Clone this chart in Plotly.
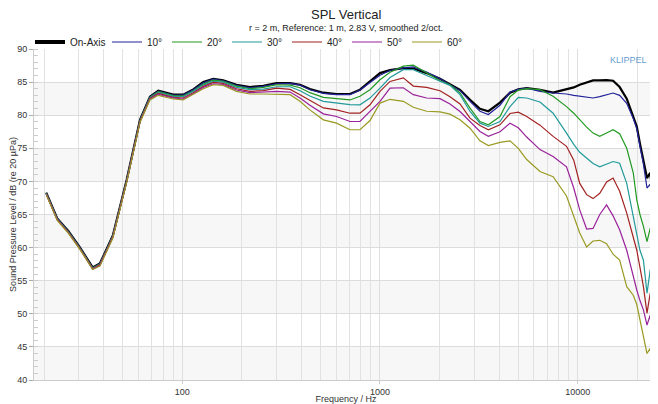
import plotly.graph_objects as go

freq_hz = [20.5, 23.3, 26.5, 30.4, 35.2, 38.3, 44.5, 52.3, 61.1, 68.6,
           75.6, 90, 101, 113.7, 127.7, 143.5, 161, 188, 220, 257,
           300, 351, 394, 442, 517, 603, 705, 792, 890, 1000,
           1124, 1312, 1474, 1722, 2012, 2260, 2539, 2853, 3204, 3532,
           4045, 4546, 5007, 5521, 6445, 7510, 8780, 9550, 10240, 11100,
           11960, 12930, 14000, 15100, 16300, 17700, 19100, 19900, 20650, 21500,
           22420, 23270, 23700]

spl_on_axis = [68.3, 64.4, 62.5, 60.0, 57.0, 57.6, 61.8, 70.2, 79.3, 82.8,
               83.7, 83.1, 83.1, 83.9, 85.0, 85.5, 85.25, 84.6, 84.25, 84.45,
               84.85, 84.85, 84.6, 83.95, 83.4, 83.2, 83.2, 83.85, 85.1, 86.36,
               86.8, 87.1, 87.05, 86.36, 85.5, 84.7, 83.84, 82.33, 80.97, 80.6,
               81.9, 83.4, 83.9, 84.1, 83.85, 83.4, 83.85, 84.2, 84.6, 84.95,
               85.25, 85.25, 85.3, 85.2, 84.25, 82.5, 79.9, 78.3, 75.7, 73.3,
               70.5, 71.3, 69.2]

spl_10 = [68.25, 64.4, 62.45, 59.95, 56.95, 57.55, 61.75, 70.15, 79.25, 82.75,
          83.65, 83.05, 83.05, 83.85, 84.9, 85.45, 85.2, 84.5, 84.15, 84.35,
          84.75, 84.8, 84.55, 83.85, 83.3, 83.1, 83.1, 83.8, 84.95, 86.05,
          86.75, 87.15, 87.3, 86.5, 85.5, 84.6, 83.7, 82.1, 80.6, 80.1,
          81.5, 83.5, 83.9, 84.1, 83.6, 83.35, 83.2, 83.0, 82.85, 82.7,
          82.6, 82.8, 83.1, 83.35, 83.0, 81.8, 79.5, 78.0, 75.3, 72.6,
          69.0, 69.6, 67.2]

spl_20 = [68.2, 64.35, 62.4, 59.9, 56.9, 57.5, 61.7, 70.1, 79.2, 82.7,
          83.55, 82.95, 82.9, 83.7, 84.7, 85.3, 85.1, 84.4, 84.0, 84.2,
          84.6, 84.55, 84.15, 83.4, 82.7, 82.45, 82.3, 82.85, 83.84, 85.36,
          86.5, 87.4, 87.55, 86.4, 85.2, 84.6, 83.35, 81.07, 79.05, 78.55,
          79.8, 82.8, 83.8, 84.0, 83.85, 82.85, 81.3, 80.3, 79.3, 78.2,
          77.3, 76.8, 77.3, 77.8, 77.2, 75.0, 71.3, 67.2, 65.0, 63.2,
          60.9, 62.9, 62.9]

spl_30 = [68.15, 64.3, 62.35, 59.85, 56.85, 57.45, 61.65, 70.05, 79.15, 82.65,
          83.4, 82.85, 82.8, 83.6, 84.55, 85.1, 85.0, 84.2, 83.85, 83.95,
          84.3, 84.3, 83.7, 82.9, 82.1, 81.8, 81.6, 81.57, 82.58, 84.1,
          85.7, 86.87, 86.87, 86.0, 85.1, 84.5, 83.1, 80.56, 78.8, 78.3,
          79.05, 81.3, 82.7, 82.6, 82.0, 80.3, 77.3, 75.6, 74.4, 73.5,
          72.7, 72.2, 72.6, 73.0, 72.75, 69.7, 64.7, 62.1, 59.6, 58.1,
          53.1, 56.6, 56.6]

spl_40 = [68.1, 64.25, 62.3, 59.8, 56.8, 57.4, 61.6, 70.0, 79.1, 82.55,
          83.3, 82.7, 82.6, 83.4, 84.35, 84.95, 84.8, 84.0, 83.6, 83.7,
          84.1, 83.9, 83.1, 82.2, 81.1, 80.8, 80.3, 80.31, 81.57, 83.6,
          85.1, 85.65, 84.4, 84.2, 83.7, 82.8, 81.7, 79.56, 78.45, 77.8,
          78.55, 80.26, 80.46, 79.8, 78.5, 76.8, 75.3, 73.2, 69.7, 68.0,
          67.4, 68.2, 69.9, 70.5, 68.5, 65.2, 61.4, 59.6, 57.0, 54.1,
          50.1, 53.1, 51.8]

spl_50 = [68.05, 64.2, 62.25, 59.75, 56.75, 57.3, 61.5, 69.9, 79.0, 82.4,
          83.15, 82.6, 82.45, 83.25, 84.2, 84.75, 84.65, 83.8, 83.4, 83.45,
          83.6, 83.5, 82.6, 81.5, 80.2, 79.8, 79.05, 79.05, 80.55, 82.08,
          84.1, 84.15, 83.1, 82.6, 82.5, 81.7, 80.56, 79.05, 77.54, 76.8,
          77.5, 78.8, 78.1, 76.7, 74.8, 73.75, 72.2, 69.0, 65.7, 62.8,
          62.9, 65.0, 66.45, 64.8, 62.7, 59.6, 55.6, 53.6, 52.0, 50.6,
          48.3, 49.8, 47.5]

spl_60 = [68.0, 64.1, 62.2, 59.7, 56.7, 57.2, 61.4, 69.8, 78.9, 82.3,
          83.0, 82.45, 82.3, 83.1, 84.0, 84.6, 84.5, 83.6, 83.2, 83.2,
          83.2, 83.1, 82.1, 80.8, 79.3, 78.8, 77.8, 77.8, 79.2, 81.83,
          82.4, 82.1, 81.2, 80.6, 80.5, 80.16, 79.3, 78.04, 76.13, 75.42,
          75.9, 76.13, 75.0, 73.3, 71.5, 70.7, 67.8, 64.7, 62.2, 60.1,
          61.0, 61.1, 60.6, 59.0, 58.1, 54.1, 52.8, 51.4, 49.1, 46.6,
          44.0, 44.8, 42.7]

series_names = ["On-Axis", "10°", "20°", "30°", "40°", "50°", "60°"]
series_values = [spl_on_axis, spl_10, spl_20, spl_30, spl_40, spl_50, spl_60]
series_colors = ["#000000", "#22229a", "#229a22", "#229a9a", "#a32222", "#9a229a", "#9a9a22"]
series_widths = [2.2, 1.2, 1.2, 1.2, 1.2, 1.2, 1.2]

x_major = [100, 1000, 10000]
x_major_text = ["100", "1000", "10000"]
x_minor = [20, 30, 40, 50, 60, 70, 80, 90,
           200, 300, 400, 500, 600, 700, 800, 900,
           2000, 3000, 4000, 5000, 6000, 7000, 8000, 9000, 20000]
y_ticks = [40, 45, 50, 55, 60, 65, 70, 75, 80, 85, 90]
band_starts = [40, 50, 60, 70, 80]

FONT = "Liberation Sans, Arial, sans-serif"

# the page body has an 8 px default margin, so the figure is 650x396
W, H = 650, 396
ML, MR, MT, MB = 26, 0, 41, 24
PLOT_W = W - ML - MR
PLOT_H = H - MT - MB

fig = go.Figure()
for i, (name, vals, col, w) in enumerate(zip(series_names, series_values, series_colors, series_widths)):
    if i == 0:
        # plotted line without legend entry, plus a thicker legend-only key
        fig.add_trace(go.Scatter(x=freq_hz, y=vals, name=name, mode="lines", showlegend=False,
                                 legendgroup=name, line=dict(color=col, width=w)))
        fig.add_trace(go.Scatter(x=[None], y=[None], name=name, mode="lines", legend="legend",
                                 legendgroup=name, line=dict(color=col, width=4)))
    else:
        fig.add_trace(go.Scatter(x=freq_hz, y=vals, name=name, mode="lines", legend="legend2",
                                 line=dict(color=col, width=w)))

shapes = []
for b in band_starts:
    shapes.append(dict(type="rect", xref="paper", yref="y", x0=0, x1=1, y0=b, y1=b + 5,
                       fillcolor="#f7f7f7", line=dict(width=0), layer="below"))

legend_common = dict(orientation="h", xanchor="left", y=1 + 7 / PLOT_H, yanchor="middle",
                     font=dict(size=10, color="#222222"), bgcolor="rgba(0,0,0,0)",
                     itemwidth=30, tracegroupgap=0, itemclick=False, itemdoubleclick=False)

fig.update_layout(
    width=W, height=H,
    margin=dict(l=ML, r=MR, t=MT, b=MB, autoexpand=False),
    paper_bgcolor="white", plot_bgcolor="white",
    font=dict(family=FONT, size=9, color="#333333"),
    shapes=shapes,
    showlegend=True,
    legend=dict(x=-4 / PLOT_W, **legend_common),
    legend2=dict(x=73 / PLOT_W, entrywidth=15, entrywidthmode="pixels", **legend_common),
    annotations=[
        dict(text="SPL Vertical", xref="paper", yref="paper", x=0.5, y=1.0, yshift=35,
             showarrow=False, font=dict(size=13, color="#222222"), xanchor="center", yanchor="middle"),
        dict(text="r = 2 m, Reference: 1 m, 2.83 V, smoothed 2/oct.", xref="paper", yref="paper",
             x=0.5, y=1.0, yshift=21, showarrow=False, font=dict(size=9, color="#222222"),
             xanchor="center", yanchor="middle"),
        dict(text="KLIPPEL", xref="paper", yref="paper", x=0.985, y=1.0, yshift=-11,
             showarrow=False, font=dict(size=9, color="#6a9fcf"), xanchor="right", yanchor="middle"),
    ],
)

fig.update_xaxes(
    type="log", range=[1.2499, 4.4062], automargin=False,
    tickmode="array", tickvals=x_major, ticktext=x_major_text,
    ticks="outside", ticklen=3, tickcolor="#cccccc",
    showgrid=True, gridcolor="#dedede", gridwidth=1,
    minor=dict(tickmode="array", tickvals=x_minor, showgrid=True, gridcolor="#e2e2e2",
               gridwidth=1, ticks=""),
    showline=True, linecolor="#cccccc", linewidth=1,
    zeroline=False,
    tickfont=dict(size=9, color="#333333"),
    title=dict(text="Frequency / Hz", font=dict(size=9, color="#333333"), standoff=0),
    fixedrange=True,
)
fig.update_yaxes(
    range=[40, 90], tickmode="array", tickvals=y_ticks, automargin=False,
    ticks="outside", ticklen=4, tickcolor="#aaaaaa",
    showgrid=True, gridcolor="#dcdcdc", gridwidth=1,
    minor=dict(dtick=1, ticks="inside", ticklen=4, tickcolor="#cccccc", showgrid=False),
    showline=True, linecolor="#cccccc", linewidth=1,
    zeroline=False,
    tickfont=dict(size=9, color="#333333"),
    title=dict(text="Sound Pressure Level / dB (re 20 µPa)", font=dict(size=9, color="#333333"), standoff=6),
    fixedrange=True,
)

fig.write_html("out.html")
